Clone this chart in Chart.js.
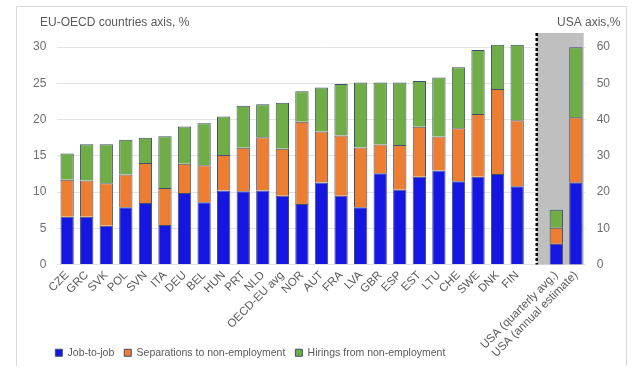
<!DOCTYPE html>
<html lang="en">
<head>
<meta charset="UTF-8">
<title>Labour market flows</title>
<script src="https://cdn.jsdelivr.net/npm/chart.js"></script>
<style>
  html, body { margin: 0; padding: 0; background: #fff; }
  #wrap { width: 640px; height: 371px; }
</style>
</head>
<body>
<div id="wrap"><canvas id="flows" width="640" height="371"></canvas></div>
<script>
  // EU-OECD countries, left axis (%)
  const countries = ['CZE', 'GRC', 'SVK', 'POL', 'SVN', 'ITA', 'DEU', 'BEL', 'HUN', 'PRT', 'NLD', 'OECD-EU avg',
    'NOR', 'AUT', 'FRA', 'LVA', 'GBR', 'ESP', 'EST', 'LTU', 'CHE', 'SWE', 'DNK', 'FIN'];
  const jobToJob = [6.6, 6.6, 5.35, 7.9, 8.5, 5.45, 9.85, 8.6, 10.2, 10.1, 10.2, 9.5,
    8.35, 11.3, 9.5, 7.9, 12.6, 10.3, 12.1, 12.95, 11.5, 12.1, 12.5, 10.8];
  const separations = [5.1, 5.0, 5.85, 4.5, 5.5, 5.1, 4.05, 5.1, 4.9, 6.0, 7.35, 6.45,
    11.35, 7.05, 8.3, 8.25, 3.95, 6.2, 6.9, 4.7, 7.3, 8.65, 11.7, 9.1];
  const hirings = [3.6, 5.0, 5.4, 4.8, 3.5, 7.15, 5.15, 5.8, 5.3, 5.8, 4.55, 6.35,
    4.2, 6.05, 7.1, 8.95, 8.55, 8.6, 6.3, 8.15, 8.4, 8.85, 6.1, 10.4];

  // USA, right axis (%)
  const usaLabels = ['USA (quarterly avg.)', 'USA (annual estimate)'];
  const usaJobToJob = [5.7, 22.6];
  const usaSeparations = [4.45, 18.0];
  const usaHirings = [4.95, 19.3];

  const seriesNames = ['Job-to-job', 'Separations to non-employment', 'Hirings from non-employment'];
  const seriesColors = ['#1616e2', '#ed7d31', '#70ad47'];

  const categories = [...countries, '', ...usaLabels];
  const gap = [null, ...usaLabels.map(() => null)];
  const leftData = arr => [...arr, ...gap];
  const rightData = arr => [...countries.map(() => null), null, ...arr];

  const textGrey = '#595959';
  const fontFamily = '"Liberation Sans", Arial, sans-serif';

  const datasets = [];
  [jobToJob, separations, hirings].forEach((arr, i) => {
    datasets.push({
      label: seriesNames[i], data: leftData(arr), backgroundColor: seriesColors[i],
      borderColor: '#3f4e6b', borderWidth: 1, yAxisID: 'y', stack: 'flows'
    });
  });
  [usaJobToJob, usaSeparations, usaHirings].forEach((arr, i) => {
    datasets.push({
      label: seriesNames[i] + ' (USA)', data: rightData(arr), backgroundColor: seriesColors[i],
      borderColor: '#3f4e6b', borderWidth: 1, yAxisID: 'y2', stack: 'flows'
    });
  });

  const usaPanel = {
    id: 'usaPanel',
    afterLayout(chart) {
      const lg = chart.legend;
      lg.left = chart.chartArea.left - lg.options.labels.padding - 2;
      // let the long rotated labels run down past the legend row
      chart.scales.x.bottom = chart.height;
    },
    beforeDraw(chart) {
      const ctx = chart.ctx;
      ctx.save();
      ctx.strokeStyle = '#d9d9d9';
      ctx.lineWidth = 1;
      ctx.beginPath();
      ctx.moveTo(16.5, 366);
      ctx.lineTo(16.5, 6.5);
      ctx.lineTo(626.5, 6.5);
      ctx.lineTo(626.5, 366);
      ctx.stroke();
      ctx.restore();
    },
    beforeDatasetsDraw(chart) {
      const { ctx, chartArea, scales: { x } } = chart;
      const slot = x.getPixelForValue(1) - x.getPixelForValue(0);
      const sepX = x.getPixelForValue(countries.length);
      const endX = x.getPixelForValue(categories.length - 1) + slot / 2 - 2;
      const top = chartArea.top - 14;
      ctx.save();
      ctx.fillStyle = '#bfbfbf';
      ctx.fillRect(sepX, top, endX - sepX, chartArea.bottom - top);
      ctx.strokeStyle = '#000';
      ctx.lineWidth = 2.5;
      ctx.setLineDash([3, 2]);
      ctx.beginPath();
      ctx.moveTo(sepX, top);
      ctx.lineTo(sepX, chartArea.bottom);
      ctx.stroke();
      ctx.restore();
    },
    afterDraw(chart) {
      const ctx = chart.ctx;
      ctx.save();
      ctx.fillStyle = textGrey;
      ctx.font = '12px ' + fontFamily;
      ctx.textBaseline = 'middle';
      ctx.textAlign = 'left';
      ctx.fillText('EU-OECD countries axis, %', 40, 23);
      ctx.fillText('USA axis,%', 557, 23);
      ctx.restore();
    }
  };

  new Chart(document.getElementById('flows'), {
    type: 'bar',
    data: { labels: categories, datasets },
    options: {
      responsive: false,
      animation: false,
      layout: { padding: { top: 47, left: 30, right: 27, bottom: 3 } },
      datasets: { bar: { barPercentage: 0.68, categoryPercentage: 1, clip: false } },
      scales: {
        x: {
          stacked: true,
          grid: { display: false, drawTicks: false },
          border: { display: false },
          ticks: {
            autoSkip: false, minRotation: 45, maxRotation: 45, padding: 4,
            color: textGrey, font: { family: fontFamily, size: 11.5 }
          },
          afterFit(scale) { scale.height = 73; }
        },
        y: {
          position: 'left', stacked: true, min: 0, max: 30,
          grid: { color: '#e3e3e3', tickColor: 'transparent' },
          border: { display: false },
          ticks: { stepSize: 5, color: '#6e6e6e', font: { family: fontFamily, size: 12 } }
        },
        y2: {
          position: 'right', stacked: true, min: 0, max: 60,
          grid: { display: false, drawOnChartArea: false, tickColor: 'transparent' },
          border: { display: false },
          ticks: { stepSize: 10, color: '#6e6e6e', font: { family: fontFamily, size: 12 } }
        }
      },
      plugins: {
        tooltip: { enabled: false },
        legend: {
          position: 'bottom', align: 'start', fullSize: false,
          labels: {
            boxWidth: 7, boxHeight: 7, padding: 10, color: textGrey,
            font: { family: fontFamily, size: 10.5 },
            filter: item => item.datasetIndex < 3
          }
        }
      }
    },
    plugins: [usaPanel]
  });
</script>
</body>
</html>
